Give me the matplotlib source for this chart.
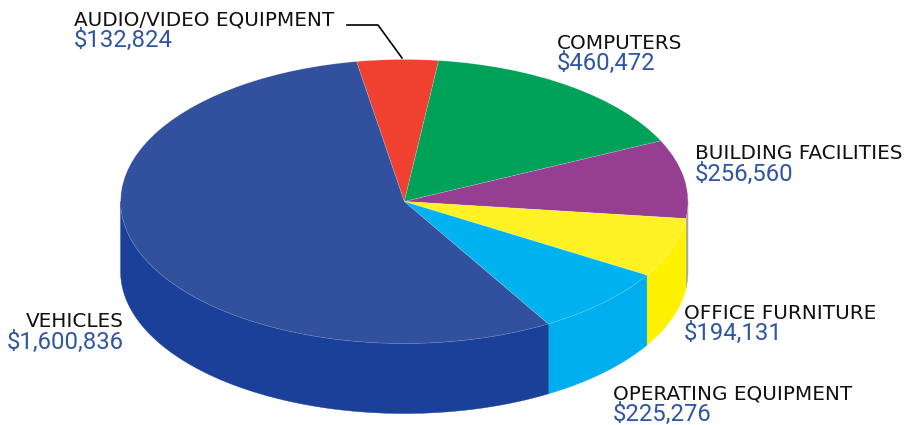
import numpy as np
import matplotlib
matplotlib.use('Agg')
import matplotlib.pyplot as plt
from matplotlib.lines import Line2D

W, H = 909, 425

categories = ['AUDIO/VIDEO EQUIPMENT', 'COMPUTERS', 'BUILDING FACILITIES',
              'OFFICE FURNITURE', 'OPERATING EQUIPMENT', 'VEHICLES']
values = [132824, 460472, 256560, 194131, 225276, 1600836]
top_colors = ['#F04030', '#00A159', '#963E92', '#FFF224', '#00B3F0', '#31519F']
side_colors = ['#F04030', '#00A159', '#A8A8A0', '#FFF200', '#00AEEF', '#1A4099']

# label positions in pixels: x, label baseline, value baseline, alignment
label_pos = [(74, 26, 47, 'left'), (557, 49, 70, 'left'), (695, 159, 181, 'left'),
             (684, 319, 340, 'left'), (613, 400, 421, 'left'), (124, 327, 349, 'right')]

CX, CY, RX, RY, DEPTH = 404.3, 201.5, 283.7, 142, 70


def fx(px):
    return px / W


def fy(py):
    return 1 - py / H


def draw_side(ax, theta1, theta2, color):
    # only the front half of the rim is visible
    depth = DEPTH / RY
    for k in (-360, 0, 360):
        a = max(theta1 + k, 180)
        b = min(theta2 + k, 360)
        if b <= a:
            continue
        t = np.radians(np.linspace(a, b, 200))
        x = np.cos(t)
        y = np.sin(t)
        ax.fill(np.r_[x, x[::-1]], np.r_[y, y[::-1] - depth], color=color, lw=0.3, zorder=1)


fig = plt.figure(figsize=(W / 100, H / 100), dpi=100)
ax = fig.add_axes([0, 0, 1, 1])

wedges, _ = ax.pie(values, colors=top_colors, startangle=99.7, counterclock=False, radius=1,
                   wedgeprops={'edgecolor': (1, 1, 1, 0.22), 'linewidth': 0.5, 'zorder': 2})
ax.set_aspect('auto')
ax.set_xlim(-CX / RX, (W - CX) / RX)
ax.set_ylim((CY - H) / RY, CY / RY)

for w, c in zip(wedges, side_colors):
    draw_side(ax, w.theta1, w.theta2, c)

for name, val, (x, y1, y2, ha) in zip(categories, values, label_pos):
    fig.text(fx(x), fy(y1), name, ha=ha, va='baseline', fontsize=14.4, color='#111111',
             family='DejaVu Sans')
    fig.text(fx(x), fy(y2), '${:,}'.format(val), ha=ha, va='baseline', fontsize=17.2,
             color='#2F55A4', family='Roboto')

# leader line for the audio/video slice
fig.add_artist(Line2D([fx(347), fx(378), fx(402)], [fy(25), fy(25), fy(58)], color='black', lw=1.2))

fig.savefig('out.png', dpi=100)
